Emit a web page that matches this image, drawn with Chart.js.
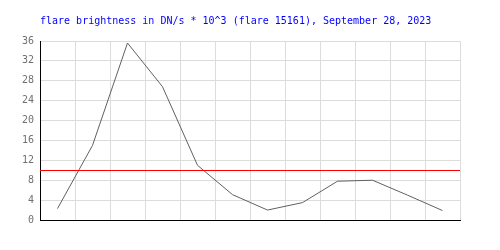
<!DOCTYPE html>
<html>
<head>
<meta charset="utf-8">
<script src="https://cdn.jsdelivr.net/npm/chart.js@4/dist/chart.umd.min.js"></script>
<style>
html,body{margin:0;padding:0;background:#fff;}
#wrap{width:500px;height:250px;position:relative;}
</style>
</head>
<body>
<div id="wrap"><canvas id="c" width="500" height="250"></canvas></div>
<script>
const titleText = 'flare brightness in DN/s * 10^3 (flare 15161), September 28, 2023';
const categories = ['1','2','3','4','5','6','7','8','9','10','11','12'];
const brightness = [2.3, 15.0, 35.6, 26.8, 11.0, 5.1, 2.0, 3.5, 7.8, 8.0, 5.0, 1.9];
const threshold = 10;
const yTicks = [0, 4, 8, 12, 16, 20, 24, 28, 32, 36];

const thresholdLine = {
  id: 'thresholdLine',
  afterDatasetsDraw(chart) {
    const {ctx, chartArea, scales} = chart;
    const y = Math.round(scales.y.getPixelForValue(threshold)) + 0.5;
    ctx.save();
    ctx.strokeStyle = '#ff0000';
    ctx.lineWidth = 1;
    ctx.beginPath();
    ctx.moveTo(chartArea.left, y);
    ctx.lineTo(chartArea.right, y);
    ctx.stroke();
    ctx.restore();
  }
};

new Chart(document.getElementById('c'), {
  type: 'line',
  data: {
    labels: categories,
    datasets: [{
      data: brightness,
      borderColor: '#606060',
      borderWidth: 1,
      pointRadius: 0,
      tension: 0,
      fill: false
    }]
  },
  options: {
    responsive: false,
    animation: false,
    devicePixelRatio: 1,
    layout: { padding: { left: 0, right: 40, top: 0, bottom: 30 } },
    plugins: {
      legend: { display: false },
      tooltip: { enabled: false },
      title: {
        display: true,
        text: titleText,
        align: 'start',
        fullSize: false,
        color: '#0000ff',
        font: { family: 'DejaVu Sans Mono', size: 10, weight: 'normal', lineHeight: 1.2 },
        padding: { top: 15, bottom: 14 }
      }
    },
    scales: {
      x: {
        offset: true,
        grid: { offset: true, color: '#dcdcdc', drawTicks: false },
        border: { color: '#000000', width: 1 },
        ticks: { display: false }
      },
      y: {
        min: 0,
        max: 36,
        afterBuildTicks(scale) { scale.ticks = yTicks.map(v => ({ value: v })); },
        afterFit(scale) { scale.width = 40; },
        grid: { color: '#dcdcdc', drawTicks: false },
        border: { color: '#000000', width: 1 },
        ticks: {
          color: '#707070',
          padding: 6,
          font: { family: 'DejaVu Sans Mono', size: 10 }
        }
      }
    }
  },
  plugins: [thresholdLine]
});
</script>
</body>
</html>
